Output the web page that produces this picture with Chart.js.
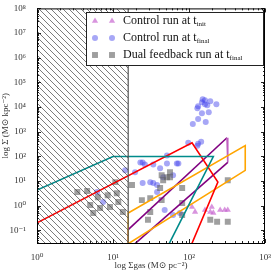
<!DOCTYPE html>
<html>
<head>
<meta charset="utf-8">
<script src="https://cdn.jsdelivr.net/npm/chart.js@4.4.1/dist/chart.umd.min.js"></script>
<style>
  html, body { margin: 0; padding: 0; background: #fff; }
</style>
</head>
<body>
<canvas id="ksChart" width="274" height="271"></canvas>
<script>
/* Kennicutt-Schmidt style plot: log-log scatter + observed regions */

// ---------------------- Data (log10 values) ----------------------
const X_RANGE = [0, 3];          // log Σgas
const Y_RANGE = [-1.52, 8];      // log Σ
const X_DECADES = [0, 1, 2, 3];
const Y_DECADES = [-1, 0, 1, 2, 3, 4, 5, 6, 7, 8];
const HATCH_X = [0, 1.2];

// control run at t_init (triangles)
const initX = [2.04, 2.08, 2.28, 2.32, 2.30, 2.41, 2.47, 2.51, 2.21];
const initY = [-0.06, -0.26, -0.26, -0.30, -0.06, -0.18, -0.18, -0.18, -0.18];

// control run at t_final (circles)
const finalX = [2.18, 2.17, 2.21, 2.12, 2.24, 2.36, 2.11, 2.26, 2.17, 2.12, 2.22, 2.05, 2.21, 2.28,
  1.99, 2.11, 2.16, 2.12, 1.84, 1.71, 1.62, 1.39, 1.36, 1.42, 1.53, 1.71, 1.86, 1.29,
  1.39, 1.53, 1.58, 1.49, 1.66, 1.79, 1.58, 1.68, 1.79, 1.88, 0.79, 0.87, 1.16];
const finalY = [4.31, 4.19, 4.11, 4.03, 4.07, 4.11, 3.95, 3.79, 3.75, 3.51, 3.39, 3.31, 4.27, 4.23,
  2.55, 2.43, 2.59, 2.51, 1.71, 2.03, 1.51, 1.75, 1.75, 1.67, 1.67, 1.71, 1.71, 1.35,
  0.91, 0.91, 0.83, 0.95, 1.15, 1.23, 0.55, -0.18, -0.38, -0.30, 0.55, 0.14, 1.43];

// dual feedback run at t_final (squares)
const dualX = [0.53, 0.66, 0.80, 0.93, 1.05, 1.03, 1.07, 0.70, 0.83, 0.74, 0.96, 1.13, 1.25,
  1.64, 1.71, 1.75, 1.66, 1.75, 1.91, 1.62, 1.38, 1.49, 1.64, 1.49, 1.46, 1.91, 1.91,
  2.51, 2.28, 2.37, 2.51];
const dualY = [0.55, 0.59, 0.34, 0.42, 0.50, 0.95, 0.14, 0.02, -0.10, -0.30, -0.06, -0.26, 0.83,
  1.23, 1.15, 1.15, 1.03, 1.35, 0.71, 0.71, 0.22, 0.30, 0.22, -0.26, -0.58, 0.10, -0.38,
  1.03, -0.58, -0.66, -0.66];

// observed regions (polylines)
const tealX = [0, 1.0, 2.32, 1.73];
const tealY = [0.63, 1.99, 1.99, -1.6];
const redX = [0, 2.04, 2.38, 2.03];
const redY = [-0.70, 2.55, 0.95, -1.6];
const purpleX = [1.2, 1.2, 2.5, 2.51, 1.27];
const purpleY = [-1.6, -0.98, 2.75, 1.75, -1.6];
const orangeX = [1.2, 1.2, 2.74, 2.74, 1.2];
const orangeY = [-1.6, -0.30, 2.43, 1.43, -1.55];

const LEGEND_TEXT = ['Control run at t', 'Control run at t', 'Dual feedback run at t'];
const LEGEND_SUB = ['init', 'final', 'final'];

// ---------------------- helpers ----------------------
const pts = (xs, ys) => xs.map((x, i) => ({ x: 10 ** x, y: 10 ** ys[i] }));
const SUP = { '-': '⁻', '0': '⁰', '1': '¹', '2': '²', '3': '³', '4': '⁴', '5': '⁵', '6': '⁶', '7': '⁷', '8': '⁸', '9': '⁹' };
const powLabel = (v) => '10' + String(Math.round(Math.log10(v))).split('').map(c => SUP[c]).join('');
const SERIF = '"Liberation Serif", "DejaVu Serif", serif';

function hatchPattern() {
  const c = document.createElement('canvas');
  c.width = 6; c.height = 6;
  const g = c.getContext('2d');
  g.strokeStyle = '#444';
  g.lineWidth = 0.7;
  g.beginPath();
  g.moveTo(0, 0); g.lineTo(6, 6);
  g.moveTo(-1, 5); g.lineTo(1, 7);
  g.moveTo(5, -1); g.lineTo(7, 1);
  g.stroke();
  return g.createPattern(c, 'repeat');
}

const lineSet = (label, data, color, extra) => Object.assign({
  type: 'line', label, data, borderColor: color, borderWidth: 1.6,
  pointRadius: 0, fill: false, tension: 0, showLine: true,
}, extra || {});

// ---------------------- plugins ----------------------
const frameTicks = {
  id: 'frameTicks',
  afterDatasetsDraw(chart) {
    const { ctx, chartArea: a, scales } = chart;
    ctx.save();
    ctx.strokeStyle = '#222';
    ctx.lineWidth = 1;
    const tick = (scale, val, len) => {
      const p = Math.round(scale.getPixelForValue(val)) + 0.5;
      ctx.beginPath();
      if (scale.axis === 'x') {
        ctx.moveTo(p, a.bottom); ctx.lineTo(p, a.bottom - len);
        ctx.moveTo(p, a.top); ctx.lineTo(p, a.top + len);
      } else {
        ctx.moveTo(a.left, p); ctx.lineTo(a.left + len, p);
        ctx.moveTo(a.right, p); ctx.lineTo(a.right - len, p);
      }
      ctx.stroke();
    };
    [[scales.x, X_DECADES], [scales.y, [-2].concat(Y_DECADES)]].forEach(([s, decs]) => {
      decs.forEach(d => {
        const major = 10 ** d;
        if (major >= s.min && major <= s.max) tick(s, major, 4);
        for (let m = 2; m < 10; m++) {
          const v = m * major;
          if (v > s.min && v < s.max) tick(s, v, 2);
        }
      });
    });
    ctx.strokeStyle = '#000';
    ctx.strokeRect(a.left + 0.5, a.top + 0.5, a.right - a.left - 1, a.bottom - a.top);
    ctx.restore();
  },
};

const boxLegend = {
  id: 'boxLegend',
  afterDraw(chart) {
    const { ctx } = chart;
    const ds = chart.data.datasets.filter(d => d.legendRow !== undefined);
    ctx.save();
    ctx.fillStyle = '#fff';
    ctx.fillRect(86, 12, 177, 53);
    ctx.strokeStyle = '#222';
    ctx.lineWidth = 1;
    ctx.strokeRect(86.5, 12.5, 177, 53);
    ds.forEach((d) => {
      const i = d.legendRow;
      const y = 21 + i * 17;
      ctx.fillStyle = d.backgroundColor;
      ctx.strokeStyle = d.backgroundColor;
      [95, 112].forEach(x => {
        Chart.helpers.drawPoint(ctx, { pointStyle: d.pointStyle, radius: d.pointRadius, rotation: 0, borderWidth: 0 }, x, y);
      });
      ctx.fillStyle = '#111';
      ctx.textBaseline = 'middle';
      ctx.font = '12px ' + SERIF;
      ctx.fillText(LEGEND_TEXT[i], 123, y);
      const w = ctx.measureText(LEGEND_TEXT[i]).width;
      ctx.font = '7px ' + SERIF;
      ctx.fillText(LEGEND_SUB[i], 123 + w, y + 3);
    });
    ctx.restore();
  },
};

// ---------------------- chart ----------------------
new Chart(document.getElementById('ksChart'), {
  type: 'scatter',
  data: {
    datasets: [
      lineSet('hatch', pts(HATCH_X, [Y_RANGE[1], Y_RANGE[1]]), 'rgba(0,0,0,0)', {
        fill: 'start', backgroundColor: hatchPattern(), borderWidth: 0,
      }),
      lineSet('hatch edge', pts([HATCH_X[1], HATCH_X[1]], Y_RANGE), '#555', { borderWidth: 1.2 }),
      lineSet('teal', pts(tealX, tealY), '#008b8b'),
      lineSet('red', pts(redX, redY), '#ff0000'),
      lineSet('orange', pts(orangeX, orangeY), '#ffa500'),
      lineSet('purple', pts(purpleX, purpleY), '#800080', {
        segment: { borderColor: (c) => (c.p0DataIndex === 0 || c.p0DataIndex === 2) ? '#bf5fbf' : '#800080' },
      }),
      {
        label: 'Dual feedback run at t_final', legendRow: 2, data: pts(dualX, dualY),
        pointStyle: 'rect', pointRadius: 4.2, backgroundColor: 'rgba(95,95,95,0.6)', borderWidth: 0,
      },
      {
        label: 'Control run at t_final', legendRow: 1, data: pts(finalX, finalY),
        pointStyle: 'circle', pointRadius: 3, backgroundColor: 'rgba(60,60,235,0.45)', borderWidth: 0,
      },
      {
        label: 'Control run at t_init', legendRow: 0, data: pts(initX, initY),
        pointStyle: 'triangle', pointRadius: 3.6, backgroundColor: 'rgba(195,90,205,0.65)', borderWidth: 0,
      },
    ],
  },
  options: {
    responsive: false,
    animation: false,
    layout: { padding: { top: 6, right: 9, left: 0, bottom: 0 } },
    plugins: { legend: { display: false }, tooltip: { enabled: false } },
    scales: {
      x: {
        type: 'logarithmic',
        min: 10 ** X_RANGE[0],
        max: 10 ** X_RANGE[1],
        afterBuildTicks: (s) => { s.ticks = X_DECADES.map(d => ({ value: 10 ** d })); },
        afterFit: (s) => { s.height = 28; },
        grid: { display: false },
        border: { display: false },
        ticks: { callback: powLabel, color: '#333', font: { family: SERIF, size: 9 }, padding: 1, maxRotation: 0 },
        title: { display: true, text: 'log Σgas (M⊙ pc⁻²)', color: '#333', font: { family: SERIF, size: 9 }, padding: 0 },
      },
      y: {
        type: 'logarithmic',
        min: 10 ** Y_RANGE[0],
        max: 10 ** Y_RANGE[1],
        afterBuildTicks: (s) => { s.ticks = Y_DECADES.map(d => ({ value: 10 ** d })); },
        afterFit: (s) => { s.width = 37; },
        grid: { display: false },
        border: { display: false },
        ticks: { callback: powLabel, color: '#333', font: { family: SERIF, size: 9 }, padding: 3 },
        title: { display: true, text: 'log Σ̇ (M⊙ kpc⁻²)', color: '#333', font: { family: SERIF, size: 9 }, padding: 0 },
      },
    },
  },
  plugins: [frameTicks, boxLegend],
});
</script>
</body>
</html>
